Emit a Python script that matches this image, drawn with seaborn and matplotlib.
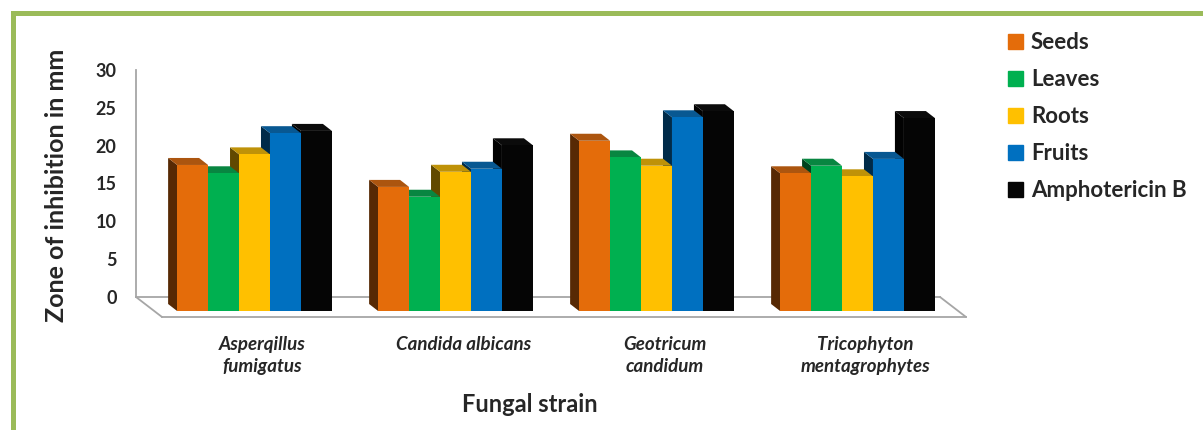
import matplotlib
matplotlib.use('Agg')
import matplotlib.pyplot as plt
import seaborn as sns
import pandas as pd
import numpy as np
from matplotlib.patches import Patch, Polygon, Rectangle
from matplotlib.lines import Line2D
from matplotlib.colors import to_rgb

# Data
strains = ['Asperqillus\nfumigatus', 'Candida albicans', 'Geotricum\ncandidum', 'Tricophyton\nmentagrophytes']
extracts = ['Seeds', 'Leaves', 'Roots', 'Fruits', 'Amphotericin B']
seeds = [19.3, 16.4, 22.5, 18.2]
leaves = [18.2, 15.1, 20.3, 19.2]
roots = [20.7, 18.4, 19.2, 17.8]
fruits = [23.5, 18.8, 25.6, 20.1]
amphotericin = [23.8, 21.9, 26.4, 25.5]
colors = ['#E46C0A', '#00B050', '#FFC000', '#0070C0', '#050505']
y_ticks = [0, 5, 10, 15, 20, 25, 30]

df = pd.DataFrame({
    'strain': strains * 5,
    'extract': np.repeat(extracts, len(strains)),
    'value': seeds + leaves + roots + fruits + amphotericin,
})

sns.set_style('white')
plt.rcParams['font.family'] = ['Lato', 'DejaVu Sans']

W, H = 1203, 430
fig = plt.figure(figsize=(W / 100, H / 100), dpi=100)

# front plane of the bars, in pixels
L, B, AW, AH = 154, 119, 804, 227
grey = '#A6A6A6'


def pos(dx, dy):
    return [(L + dx) / W, (B + dy) / H, AW / W, AH / H]


# back wall (y axis) and front edge of the floor (x axis)
wall = fig.add_axes(pos(-18, 14))
floor = fig.add_axes(pos(8, -6))
ax = fig.add_axes(pos(0, 0))

for a in (wall, floor):
    a.set_facecolor('none')
    a.set_xlim(-0.5, 3.5)
    a.set_ylim(0, 30)
    for s in a.spines.values():
        s.set_visible(False)

wall.spines['left'].set_visible(True)
wall.spines['bottom'].set_visible(True)
for s in ('left', 'bottom'):
    wall.spines[s].set_color(grey)
    wall.spines[s].set_linewidth(1.3)
wall.set_xticks([])
wall.set_yticks(y_ticks)
wall.tick_params(axis='y', length=5, width=1.3, color=grey, pad=9, labelsize=13)
for t in wall.get_yticklabels():
    t.set_fontweight('bold')
wall.set_ylabel('Zone of inhibition in mm', fontsize=18, fontweight='bold')
wall.yaxis.set_label_coords(-0.085, 0.49)

floor.spines['bottom'].set_visible(True)
floor.spines['bottom'].set_color(grey)
floor.spines['bottom'].set_linewidth(1.3)
floor.set_yticks([])
floor.set_xticks(range(len(strains)))
floor.set_xticklabels(strains, fontsize=13.5, fontweight='bold', fontstyle='italic',
                      linespacing=1.35)
floor.set_xticks(np.arange(-0.5, len(strains)), minor=True)
floor.tick_params(axis='x', which='major', length=0, pad=14)
floor.tick_params(axis='x', which='minor', length=6, width=1.3, color=grey)
floor.set_xlabel('Fungal strain', fontsize=17, fontweight='bold')
floor.xaxis.set_label_coords(0.458, -0.335)

# floor side edges
for side in (0, 1):
    pw, pf = wall.get_position(), floor.get_position()
    xw = pw.x0 if side == 0 else pw.x1
    xf = pf.x0 if side == 0 else pf.x1
    fig.add_artist(Line2D([xw, xf], [pw.y0, pf.y0], color=grey, lw=1.3))

sns.barplot(data=df, x='strain', y='value', hue='extract', palette=colors,
            width=0.77, errorbar=None, legend=False, saturation=1, ax=ax)
ax.set_xlim(-0.5, 3.5)
ax.set_ylim(0, 30)
ax.axis('off')

# fake 3D: dark side and top face behind each bar
ddx, ddy = -9 / (AW / 4), 7 / (AH / 30)
bars = list(ax.patches)
for p in bars:
    p.set_zorder(3)
    p.set_linewidth(0)
    x0, w, h = p.get_x(), p.get_width(), p.get_height()
    c = np.array(to_rgb(p.get_facecolor()))
    ax.add_patch(Polygon([(x0, 0), (x0, h), (x0 + ddx, h + ddy), (x0 + ddx, ddy)],
                         closed=True, color=c * 0.38, lw=0, zorder=1))
    ax.add_patch(Polygon([(x0, h), (x0 + w, h), (x0 + w + ddx, h + ddy), (x0 + ddx, h + ddy)],
                         closed=True, color=np.minimum(c * 0.72 + 0.03, 1), lw=0, zorder=2))

handles = [Patch(color=c, label=e) for c, e in zip(colors, extracts)]
fig.legend(handles=handles, loc='upper left', bbox_to_anchor=(1008 / W, 1 - 32 / H),
           frameon=False, prop={'weight': 'bold', 'size': 16}, handlelength=0.68,
           handleheight=0.68, handletextpad=0.35, labelspacing=0.72,
           borderaxespad=0, borderpad=0)

# green frame
fig.add_artist(Rectangle((12.5 / W, -0.2), 1.5, (H - 13.5) / H + 0.2,
                         transform=fig.transFigure, fill=False,
                         edgecolor='#9BBB59', lw=3.6, clip_on=False))

fig.savefig('out.png', dpi=100)
